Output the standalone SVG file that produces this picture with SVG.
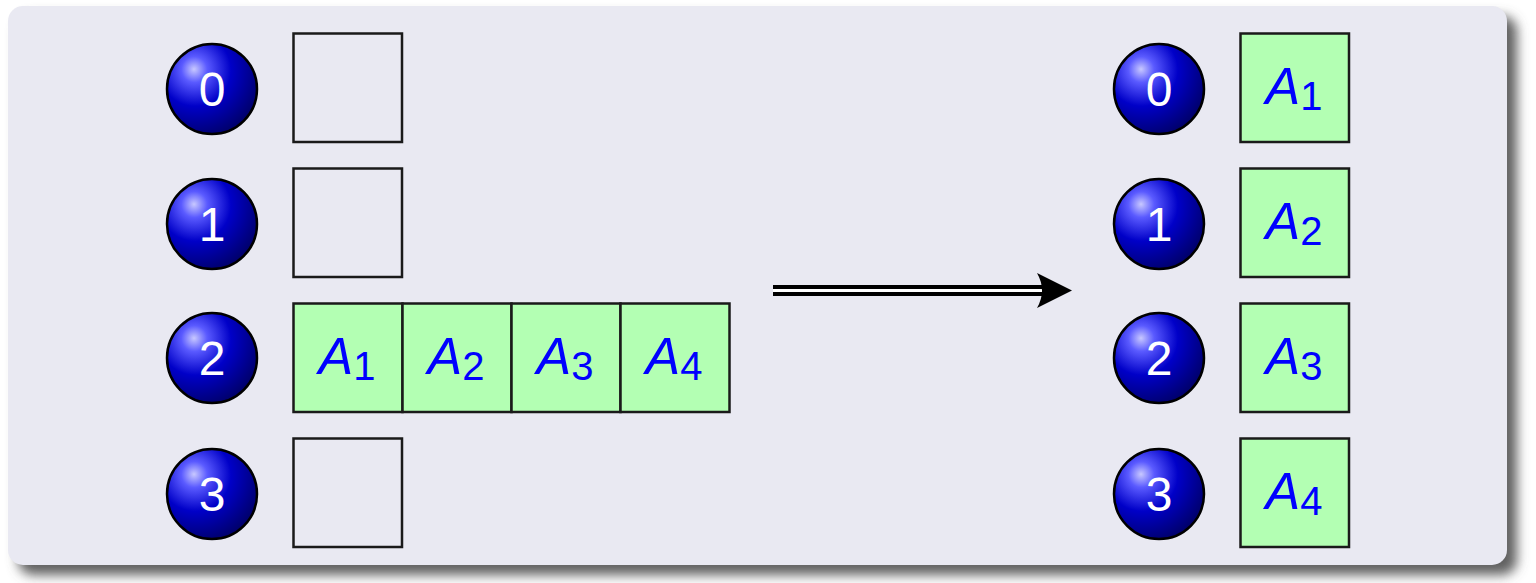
<svg xmlns="http://www.w3.org/2000/svg" width="1536" height="583" viewBox="0 0 1536 583">
<defs>
<radialGradient id="ball" cx="0.32" cy="0.3" r="0.8" fx="0.3" fy="0.28">
<stop offset="0" stop-color="#c8c8ff"/>
<stop offset="0.18" stop-color="#5a5aff"/>
<stop offset="0.5" stop-color="#0000c8"/>
<stop offset="1" stop-color="#000060"/>
</radialGradient>
<filter id="sh" x="-5%" y="-8%" width="115%" height="125%">
<feGaussianBlur stdDeviation="6"/>
</filter>
</defs>
<style>
.ball{fill:url(#ball);stroke:#000;stroke-width:2.5}
.num{font-family:"Liberation Sans","DejaVu Sans",sans-serif;font-size:48px;fill:#fff;text-anchor:middle}
.empty{fill:none;stroke:#1a1a1a;stroke-width:2.5}
.cell{fill:#b3ffb3;stroke:#1a1a1a;stroke-width:2.5}
.lbl{font-family:"Liberation Sans","DejaVu Sans",sans-serif;font-size:52px;fill:#0000ff;text-anchor:middle}
.lbl .a{font-style:italic}
.lbl .s{font-size:40px}
</style>
<rect x="0" y="0" width="1536" height="583" fill="#ffffff"/>
<rect x="18" y="16" width="1499" height="559" rx="15" fill="#606060" filter="url(#sh)"/>
<rect x="8" y="6" width="1499" height="559" rx="15" fill="#e9e9f2"/>

<g id="connectors">
<line x1="773" y1="290.5" x2="1058" y2="290.5" stroke="#000" stroke-width="11"/>
<line x1="773" y1="290.5" x2="1052" y2="290.5" stroke="#fff" stroke-width="3"/>
<path d="M1037,273 L1072,290.5 L1037,308 Q1047,290.5 1037,273 Z" fill="#000"/>
</g>

<g id="left-0"><circle class="ball" cx="212" cy="89" r="45"/><text class="num" x="212" y="106">0</text></g>
<g id="left-1"><circle class="ball" cx="212" cy="224" r="45"/><text class="num" x="212" y="241">1</text></g>
<g id="left-2"><circle class="ball" cx="212" cy="358" r="45"/><text class="num" x="212" y="375">2</text></g>
<g id="left-3"><circle class="ball" cx="212" cy="494" r="45"/><text class="num" x="212" y="511">3</text></g>

<g id="left-box-0"><rect class="empty" x="293.5" y="33.5" width="108.5" height="108.5"/></g>
<g id="left-box-1"><rect class="empty" x="293.5" y="168.5" width="108.5" height="108.5"/></g>
<g id="left-box-3"><rect class="empty" x="293.5" y="438.5" width="108.5" height="108.5"/></g>

<g id="left-cell-1"><rect class="cell" x="293.5" y="303.5" width="109" height="108.5"/><text class="lbl" x="347" y="374"><tspan class="a">A</tspan><tspan class="s" dy="6">1</tspan></text></g>
<g id="left-cell-2"><rect class="cell" x="402.5" y="303.5" width="109" height="108.5"/><text class="lbl" x="456" y="374"><tspan class="a">A</tspan><tspan class="s" dy="6">2</tspan></text></g>
<g id="left-cell-3"><rect class="cell" x="511.5" y="303.5" width="109" height="108.5"/><text class="lbl" x="565" y="374"><tspan class="a">A</tspan><tspan class="s" dy="6">3</tspan></text></g>
<g id="left-cell-4"><rect class="cell" x="620.5" y="303.5" width="109" height="108.5"/><text class="lbl" x="674" y="374"><tspan class="a">A</tspan><tspan class="s" dy="6">4</tspan></text></g>

<g id="right-0"><circle class="ball" cx="1159" cy="89" r="45"/><text class="num" x="1159" y="106">0</text></g>
<g id="right-1"><circle class="ball" cx="1159" cy="224" r="45"/><text class="num" x="1159" y="241">1</text></g>
<g id="right-2"><circle class="ball" cx="1159" cy="358" r="45"/><text class="num" x="1159" y="375">2</text></g>
<g id="right-3"><circle class="ball" cx="1159" cy="494" r="45"/><text class="num" x="1159" y="511">3</text></g>

<g id="right-cell-1"><rect class="cell" x="1240.5" y="33.5" width="108.5" height="108.5"/><text class="lbl" x="1294" y="104"><tspan class="a">A</tspan><tspan class="s" dy="6">1</tspan></text></g>
<g id="right-cell-2"><rect class="cell" x="1240.5" y="168.5" width="108.5" height="108.5"/><text class="lbl" x="1294" y="239"><tspan class="a">A</tspan><tspan class="s" dy="6">2</tspan></text></g>
<g id="right-cell-3"><rect class="cell" x="1240.5" y="303.5" width="108.5" height="108.5"/><text class="lbl" x="1294" y="374"><tspan class="a">A</tspan><tspan class="s" dy="6">3</tspan></text></g>
<g id="right-cell-4"><rect class="cell" x="1240.5" y="438.5" width="108.5" height="108.5"/><text class="lbl" x="1294" y="509"><tspan class="a">A</tspan><tspan class="s" dy="6">4</tspan></text></g>
</svg>
